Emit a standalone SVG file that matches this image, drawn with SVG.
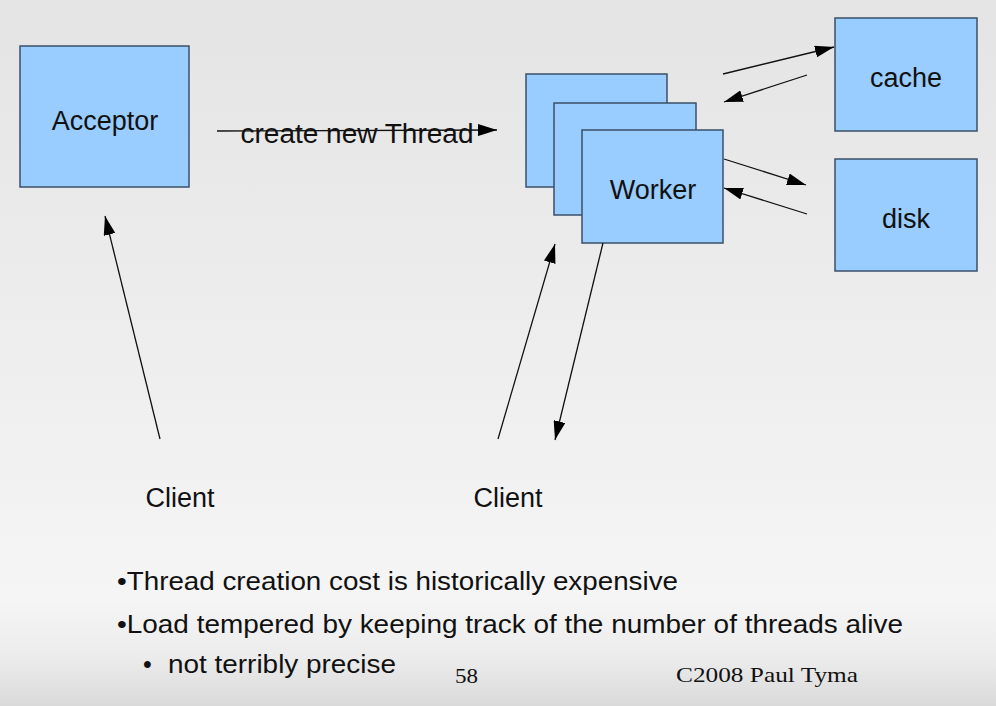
<svg xmlns="http://www.w3.org/2000/svg" width="996" height="706" viewBox="0 0 996 706">
<defs>
<linearGradient id="bg" x1="0" y1="0" x2="0" y2="1">
<stop offset="0" stop-color="#e4e4e4"/>
<stop offset="0.85" stop-color="#f5f5f5"/>
<stop offset="0.93" stop-color="#ececec"/>
<stop offset="1" stop-color="#dadada"/>
</linearGradient>
<clipPath id="clip3"><rect x="526" y="74" width="28" height="113"/></clipPath>
<clipPath id="clip2"><rect x="554" y="103" width="28" height="112"/></clipPath>
<marker id="ah" viewBox="0 0 19 12" refX="19" refY="6" markerWidth="19" markerHeight="12" markerUnits="userSpaceOnUse" orient="auto">
<path d="M0,0 L19,6 L0,12 Z" fill="#000"/>
</marker>
<style>
.box{fill:#99ccff;stroke:#3a5068;stroke-width:1.5}
.lbl{font-family:"Liberation Sans",Arial,sans-serif;font-size:27px;fill:#111;text-anchor:middle}
.conn{stroke:#111;stroke-width:1.3;fill:none;marker-end:url(#ah)}
.bul{font-family:"Liberation Sans",Arial,sans-serif;font-size:25px;fill:#111}
.ser{font-family:"Liberation Serif","Times New Roman",serif;font-size:22px;fill:#111}
</style>
</defs>
<rect width="996" height="706" fill="url(#bg)"/>
<g id="acceptor"><rect class="box" x="20" y="46" width="169" height="141"/><text class="lbl" x="105" y="130">Acceptor</text></g>
<g id="worker3"><rect class="box" x="526" y="74" width="141" height="113"/><text class="lbl" x="597" y="142" clip-path="url(#clip3)">Worker</text></g>
<g id="worker2"><rect class="box" x="554" y="103" width="142" height="112"/><text class="lbl" x="625" y="170" clip-path="url(#clip2)">Worker</text></g>
<g id="worker"><rect class="box" x="582" y="130" width="141" height="113"/><text class="lbl" x="653" y="199">Worker</text></g>
<g id="cache"><rect class="box" x="835" y="18" width="142" height="113"/><text class="lbl" x="906" y="87">cache</text></g>
<g id="disk"><rect class="box" x="835" y="159" width="142" height="112"/><text class="lbl" x="906" y="228">disk</text></g>
<g id="client1"><text class="lbl" x="180" y="507">Client</text></g>
<g id="client2"><text class="lbl" x="508" y="507">Client</text></g>
<g id="connectors">
<line class="conn" x1="217" y1="131" x2="497" y2="130"/>
<text class="lbl" x="357" y="143" textLength="233" lengthAdjust="spacingAndGlyphs">create new Thread</text>
<line class="conn" x1="723" y1="74" x2="834" y2="47"/>
<line class="conn" x1="807" y1="75" x2="724" y2="102"/>
<line class="conn" x1="724" y1="159" x2="806" y2="185"/>
<line class="conn" x1="807" y1="214" x2="724" y2="188"/>
<line class="conn" x1="160" y1="439" x2="105" y2="216"/>
<line class="conn" x1="498" y1="439" x2="555" y2="244"/>
<line class="conn" x1="603" y1="243" x2="555" y2="440"/>
</g>
<text class="bul" x="117" y="590" textLength="561" lengthAdjust="spacingAndGlyphs">•Thread creation cost is historically expensive</text>
<text class="bul" x="117" y="633" textLength="786" lengthAdjust="spacingAndGlyphs">•Load tempered by keeping track of the number of threads alive</text>
<text class="bul" x="143" y="673">•</text>
<text class="bul" x="168" y="673" textLength="228" lengthAdjust="spacingAndGlyphs">not terribly precise</text>
<text class="ser" x="455" y="683" textLength="23" lengthAdjust="spacingAndGlyphs">58</text>
<text class="ser" x="676" y="682" textLength="182" lengthAdjust="spacingAndGlyphs">C2008 Paul Tyma</text>
</svg>
